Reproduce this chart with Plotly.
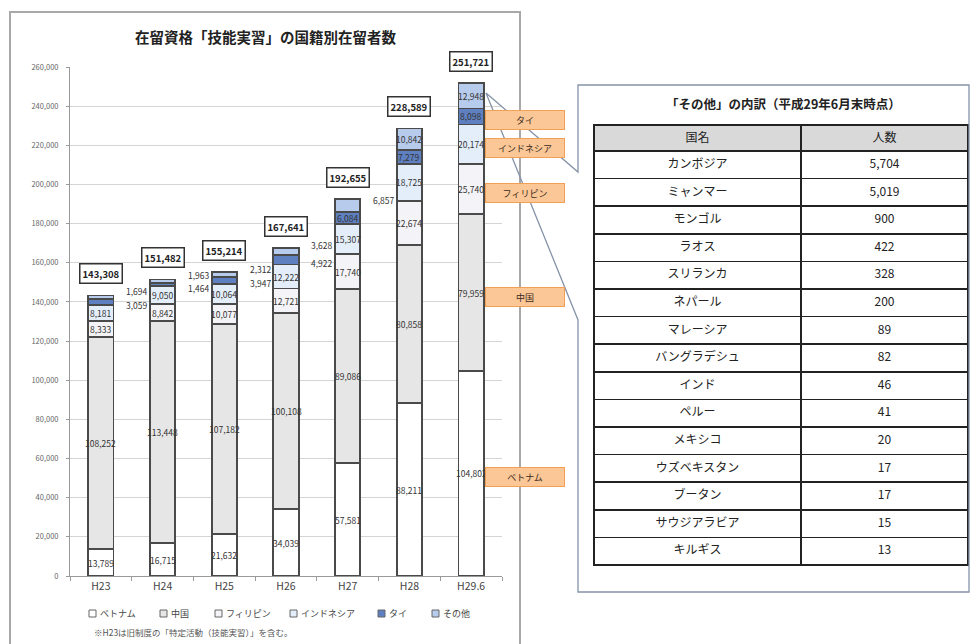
import plotly.graph_objects as go

# ---------------- data ----------------
categories = ["H23", "H24", "H25", "H26", "H27", "H28", "H29.6"]
series_names = ["ベトナム", "中国", "フィリピン", "インドネシア", "タイ", "その他"]
vietnam = [13789, 16715, 21632, 34039, 57581, 88211, 104802]
china = [108252, 113448, 107182, 100108, 89086, 80858, 79959]
philippines = [8333, 8842, 10077, 12721, 17740, 22674, 25740]
indonesia = [8181, 9050, 10064, 12222, 15307, 18725, 20174]
thailand = [3059, 1464, 3947, 4922, 6084, 7279, 8098]
others = [1694, 1963, 2312, 3628, 6857, 10842, 12948]
totals = [143308, 151482, 155214, 167641, 192655, 228589, 251721]

# which Thai / Others values are labelled inside the bar (the rest beside it)
thai_inside = [False, False, False, False, True, True, True]
others_inside = [False, False, False, False, False, True, True]

callout_series = ["タイ", "インドネシア", "フィリピン", "中国", "ベトナム"]

table_title = "「その他」の内訳（平成29年6月末時点）"
table_header = ["国名", "人数"]
other_countries = ["カンボジア", "ミャンマー", "モンゴル", "ラオス", "スリランカ", "ネパール",
                   "マレーシア", "バングラデシュ", "インド", "ペルー", "メキシコ",
                   "ウズベキスタン", "ブータン", "サウジアラビア", "キルギス"]
other_counts = [5704, 5019, 900, 422, 328, 200, 89, 82, 46, 41, 20, 17, 17, 15, 13]

title_text = "在留資格「技能実習」の国籍別在留者数"
footnote = "※H23は旧制度の「特定活動（技能実習）」を含む。"

# ---------------- style ----------------
W, H = 973, 644
FONT = "Noto Sans CJK JP"
fills = ["#ffffff", "#e6e6e6", "#f4f3f7", "#e4eefa", "#5f80c0", "#b7cbec"]
edge = "#4a4a4a"


def px(x):
    return x / W


def py(y):
    return 1 - y / H


series_vals = [vietnam, china, philippines, indonesia, thailand, others]

fig = go.Figure()
for name, vals, col in zip(series_names, series_vals, fills):
    fig.add_trace(go.Bar(
        x=categories, y=vals, name=name,
        marker=dict(color=col, line=dict(color=edge, width=1.8)),
        width=0.41, showlegend=False, hoverinfo="x+y+name",
    ))

annotations = []
shapes = []

# stacked centres
bases = [0] * len(categories)
centers = []
for vals in series_vals:
    c = []
    for i, v in enumerate(vals):
        c.append(bases[i] + v / 2)
        bases[i] += v
    centers.append(c)

lab_font = dict(family=FONT, size=8.5, color="#333333")
for s, vals in enumerate(series_vals):
    for i, v in enumerate(vals):
        inside = True
        if s == 4:
            inside = thai_inside[i]
        if s == 5:
            inside = others_inside[i]
        if inside:
            annotations.append(dict(x=i, y=centers[s][i], xref="x", yref="y",
                                    xanchor="center", yanchor="middle",
                                    text=f"{v:,}", showarrow=False, font=lab_font))
        else:
            off = 3000 if s == 5 else -1500
            annotations.append(dict(x=i + 0.8, y=centers[s][i] + off, xref="x", yref="y",
                                    text=f"{v:,}", showarrow=False, xanchor="right",
                                    yanchor="middle", font=lab_font))

# totals in boxes
for i, t in enumerate(totals):
    annotations.append(dict(x=i, y=bases[i], xref="x", yref="y", yanchor="bottom",
                            xanchor="center", yshift=11, text=f"<b>{t:,}</b>",
                            showarrow=False,
                            font=dict(family=FONT, size=9.5, color="#222222"),
                            bgcolor="#ffffff", bordercolor="#333333", borderwidth=1.5,
                            borderpad=2))

# orange callouts beside the last bar
last = len(categories) - 1
for name in callout_series:
    s = series_names.index(name)
    annotations.append(dict(x=last, y=centers[s][last], xref="x", yref="y",
                            xanchor="left", yanchor="middle", xshift=14, yshift=-4,
                            width=76, height=16, text=name, showarrow=False,
                            font=dict(family=FONT, size=9, color="#3a2a1a"),
                            bgcolor="#fbc797", bordercolor="#f2a056", borderwidth=1))

# title
annotations.append(dict(x=px(265), y=py(37), xref="paper", yref="paper",
                        xanchor="center", yanchor="middle",
                        text=f"<b>{title_text}</b>", showarrow=False,
                        font=dict(family=FONT, size=14.5, color="#222222")))
# footnote
annotations.append(dict(x=px(92), y=py(632), xref="paper", yref="paper", xanchor="left",
                        yanchor="middle", text=footnote, showarrow=False,
                        font=dict(family=FONT, size=8.5, color="#555555")))

# custom legend
leg_x = [89, 160, 215, 290, 378, 432]
for name, col, lx in zip(series_names, fills, leg_x):
    shapes.append(dict(type="rect", xref="paper", yref="paper",
                       x0=px(lx), x1=px(lx + 7), y0=py(617), y1=py(610),
                       fillcolor=col, line=dict(color="#666666", width=1)))
    annotations.append(dict(x=px(lx + 9), y=py(613.5), xref="paper", yref="paper",
                            xanchor="left", yanchor="middle", text=name, showarrow=False,
                            font=dict(family=FONT, size=9, color="#444444")))

# table title
annotations.append(dict(x=px(783), y=py(104), xref="paper", yref="paper",
                        xanchor="center", yanchor="middle",
                        text=f"<b>{table_title}</b>", showarrow=False,
                        font=dict(family=FONT, size=12.5, color="#222222")))

# chart frame
shapes.append(dict(type="rect", xref="paper", yref="paper",
                   x0=px(10), x1=px(520), y0=py(660), y1=py(12),
                   line=dict(color="#a8a8a8", width=2)))
# callout box with wedge
pts = [(578, 172), (578, 85), (969, 85), (969, 592), (578, 592), (578, 320), (486, 93)]
path = "M " + " L ".join(f"{px(a):.5f},{py(b):.5f}" for a, b in pts) + " Z"
shapes.append(dict(type="path", xref="paper", yref="paper", path=path,
                   line=dict(color="#8593a8", width=1.3)))

# table
fig.add_trace(go.Table(
    domain=dict(x=[px(594), px(968)], y=[py(566), py(125)]),
    columnwidth=[207, 167],
    header=dict(values=table_header, fill_color="#d9d9d9", align="center",
                line=dict(color="#222222", width=1.5), height=26,
                font=dict(family=FONT, size=12, color="#222222")),
    cells=dict(values=[other_countries, other_counts], format=[None, ","],
               fill_color="#ffffff", align="center", height=27.6,
               line=dict(color="#222222", width=1.5),
               font=dict(family=FONT, size=12, color="#222222")),
))

fig.update_layout(
    width=W, height=H, barmode="stack", bargap=0.59,
    margin=dict(l=0, r=0, t=0, b=0, pad=0, autoexpand=False),
    paper_bgcolor="#ffffff", plot_bgcolor="#ffffff",
    font=dict(family=FONT),
    annotations=annotations, shapes=shapes,
    xaxis=dict(domain=[px(70), px(502)], range=[-0.5, 6.5], showline=True,
               linecolor="#9a9a9a", ticks="outside", tickson="boundaries",
               ticklen=4, tickcolor="#9a9a9a", automargin=False,
               tickfont=dict(family=FONT, size=10.5, color="#444444")),
    yaxis=dict(domain=[py(576), py(67)], range=[0, 260000], dtick=20000,
               tickformat=",d", showline=True, linecolor="#9a9a9a",
               gridcolor="#d4d4d4", ticks="outside", ticklen=3, tickcolor="#9a9a9a",
               ticklabelstandoff=6, zeroline=False, automargin=False,
               tickfont=dict(family=FONT, size=7.5, color="#666666")),
)

fig.write_html("out.html", config={"displayModeBar": False},
               post_script="document.body.style.margin='0';document.body.style.overflow='hidden';")
